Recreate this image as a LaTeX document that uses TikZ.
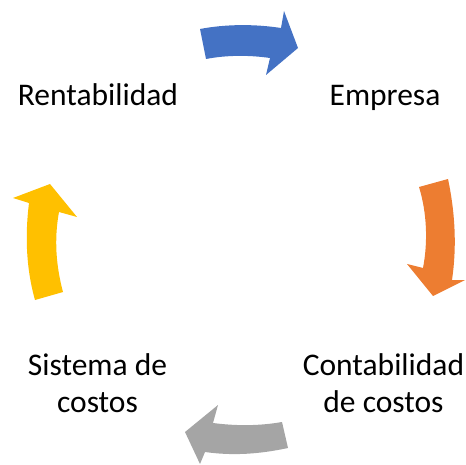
\documentclass[tikz,border=0pt]{standalone}
\usepackage{fontspec}
\setmainfont{Carlito}
\definecolor{cblue}{HTML}{4472C4}
\definecolor{corange}{HTML}{ED7D31}
\definecolor{cgray}{HTML}{A5A5A5}
\definecolor{cyellow}{HTML}{FFC000}
\tikzset{
  lbl/.style={inner sep=0pt, align=center, font=\fontsize{31.5}{37}\selectfont, anchor=base},
  cyc/.style={draw=none}
}
\begin{document}
\begin{tikzpicture}[x=1pt,y=-1pt]
\useasboundingbox (0,0) rectangle (466,465);
% labels
\node[lbl] (rent) at (98,106) {Rentabilidad};
\node[lbl] (emp) at (385,106) {Empresa};
\node[lbl] (cont) at (383.5,412) {Contabilidad\\de costos};
\node[lbl] (sist) at (97.5,412) {Sistema de\\costos};
% arrows
\fill[cblue] (200,29) .. controls (226,24) and (255,24) .. (281,28)
  -- (284,11) -- (298,48) -- (266,75) -- (270,58)
  .. controls (249,55) and (227,55) .. (206,59) -- cycle;
\fill[corange] (419,187) .. controls (427,213) and (428,242) .. (423,268)
  -- (407,264) -- (433,296) -- (465,280) -- (452,280)
  .. controls (457,246) and (455,212) .. (448,179) -- cycle;
\fill[cgray] (282,422) .. controls (259,426) and (236,426) .. (213,423)
  -- (218,405) -- (185,432) -- (200,464) -- (205,452)
  .. controls (233,456) and (260,454) .. (288,448) -- cycle;
\fill[cyellow] (35,300) .. controls (26,268) and (25,235) .. (29,203)
  -- (13,198) -- (50,184) -- (77,217) -- (59,212)
  .. controls (54,239) and (56,266) .. (63,292) -- cycle;
\end{tikzpicture}
\end{document}
